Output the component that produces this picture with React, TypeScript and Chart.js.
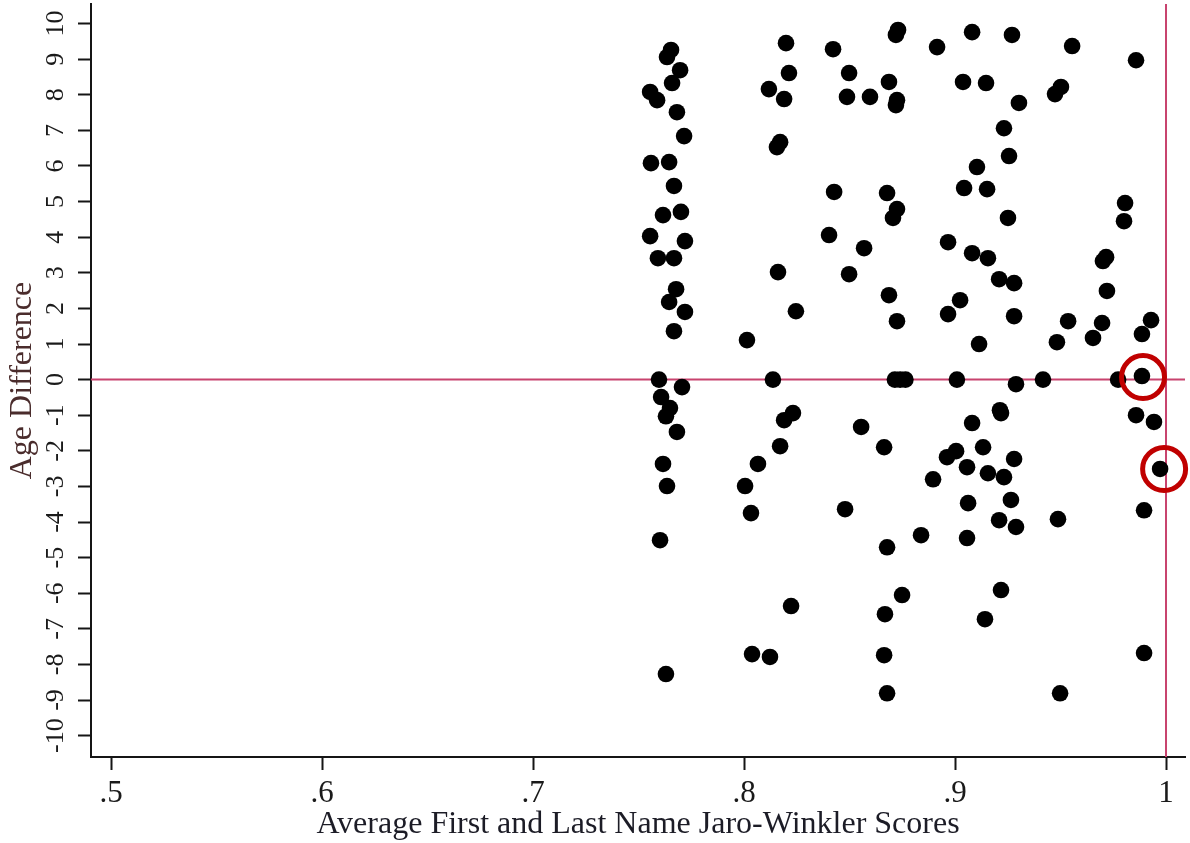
import React, { useEffect, useRef } from 'react';
import { Chart, registerables } from 'chart.js';

Chart.register(...registerables);

// ---- data ----
const xTickValues = [0.5, 0.6, 0.7, 0.8, 0.9, 1];
const xTickLabels = ['.5', '.6', '.7', '.8', '.9', '1'];
const yTickValues = [-10, -9, -8, -7, -6, -5, -4, -3, -2, -1, 0, 1, 2, 3, 4, 5, 6, 7, 8, 9, 10];
const yTickLabels = ['-10', '-9', '-8', '-7', '-6', '-5', '-4', '-3', '-2', '-1', '0', '1', '2', '3', '4', '5', '6', '7', '8', '9', '10'];

const xTitle = 'Average First and Last Name Jaro-Winkler Scores';
const yTitle = 'Age Difference';

const scoreX = [
  0.7654, 0.7635, 0.7697, 0.7659, 0.7555, 0.7588, 0.7682, 0.7716, 0.7559, 0.7645,
  0.7668, 0.7616, 0.7701, 0.7555, 0.7720, 0.7592, 0.7668, 0.7678, 0.7645, 0.7720,
  0.7668, 0.7597, 0.7706, 0.7607, 0.7649, 0.7630, 0.7682, 0.7616, 0.7635, 0.7602,
  0.7630,
  0.8199, 0.8213, 0.8118, 0.8190, 0.8171, 0.8156, 0.8161, 0.8246, 0.8014, 0.8137,
  0.8232, 0.8190, 0.8171, 0.8066, 0.8005, 0.8033, 0.8223, 0.8038, 0.8123,
  0.8422, 0.8498, 0.8488, 0.8597, 0.8687, 0.8720, 0.8725, 0.8730, 0.8720, 0.8427,
  0.8678, 0.8725, 0.8706, 0.8403, 0.8569, 0.8498, 0.8687, 0.8725, 0.8715, 0.8740,
  0.8765, 0.8555, 0.8664, 0.8479, 0.8678, 0.8749, 0.8668, 0.8664, 0.8678, 0.8839,
  0.9081, 0.8915, 0.9270, 0.9555, 0.9858, 0.9038, 0.9147, 0.9502, 0.9474, 0.9303,
  0.9232, 0.9256, 0.9104, 0.9043, 0.9152, 0.9806, 0.9801, 0.9251, 0.8967, 0.9081,
  0.9156, 0.9716, 0.9701, 0.9209, 0.9280, 0.9720, 0.9024, 0.8967, 0.9280, 0.9536,
  0.9697, 0.9929, 0.9886, 0.9654, 0.9483, 0.9114, 0.9886, 0.9009, 0.9289, 0.9417,
  0.9773, 0.9213, 0.9218, 0.9081, 0.9858, 0.9943, 0.9005, 0.8962, 0.9133, 0.9280,
  0.9057, 0.9156, 0.9232, 0.8896, 0.9972, 0.9062, 0.9265, 0.9209, 0.9289, 0.9488,
  0.9057, 0.9896, 0.9218, 0.9142, 0.9896, 0.9498,
];

const ageDiffY = [
  9.26, 9.06, 8.69, 8.33, 8.08, 7.85, 7.51, 6.84, 6.08, 6.11,
  5.44, 4.62, 4.71, 4.03, 3.89, 3.41, 3.41, 2.54, 2.18, 1.90,
  1.36, 0.00, -0.21, -0.49, -0.80, -1.03, -1.47, -2.37, -2.99, -4.51,
  -8.27,
  9.45, 8.61, 8.16, 7.88, 6.67, 6.53, 3.02, 1.92, 1.11, 0.00,
  -0.94, -1.14, -1.87, -2.37, -2.99, -3.75, -6.36, -7.71, -7.79,
  9.28, 8.61, 7.94, 7.94, 8.36, 7.71, 7.85, 9.82, 9.68, 5.27,
  5.24, 4.79, 4.54, 4.06, 3.69, 2.96, 2.37, 1.64, 0.00, 0.00,
  0.00, -1.33, -1.90, -3.64, -4.71, -6.05, -6.59, -7.74, -8.81, -4.37,
  9.76, 9.34, 9.68, 9.37, 8.97, 8.36, 8.33, 8.22, 8.02, 7.77,
  7.06, 6.28, 5.97, 5.38, 5.35, 4.96, 4.45, 4.54, 3.86, 3.55,
  3.41, 3.44, 3.33, 2.82, 2.71, 2.49, 2.23, 1.84, 1.78, 1.64,
  1.59, 1.67, 1.28, 1.17, 1.05, 1.00, 0.10, 0.00, -0.13, 0.00,
  0.00, -0.86, -0.94, -1.22, -1.00, -1.19, -2.01, -2.18, -1.90, -2.23,
  -2.46, -2.63, -2.74, -2.80, -2.51, -3.47, -3.38, -3.95, -4.14, -3.92,
  -4.45, -3.67, -5.91, -6.73, -7.68, -8.81,
];

const highlightX = [0.9891, 0.9991];
const highlightY = [0.07, -2.51];

const refLineX = 1;
const refLineY = 0;

const xMin = 0.4905;
const xMax = 1.009;
const yMin = -10.6;
const yMax = 10.55;

// ---- styles ----
const SERIF = '"Liberation Serif", "Times New Roman", Times, serif';
const RED_LINE = '#c8436e';
const AXIS = '#151515';

const rotatedYLabels = {
  id: 'rotatedYLabels',
  afterDraw(chart: any) {
    const ys = chart.scales.y;
    const ctx = chart.ctx;
    ctx.save();
    ctx.font = `26px ${SERIF}`;
    ctx.fillStyle = '#1a1a1a';
    ctx.textAlign = 'center';
    ctx.textBaseline = 'middle';
    yTickValues.forEach((v, i) => {
      const py = ys.getPixelForValue(v);
      ctx.save();
      ctx.translate(ys.right - 13 - 22, py);
      ctx.rotate(-Math.PI / 2);
      ctx.fillText(yTickLabels[i], 0, 0);
      ctx.restore();
    });
    ctx.restore();
  },
};

const zeroPad = (scale: any) => {
  scale.paddingLeft = 0;
  scale.paddingRight = 0;
  scale.paddingTop = 0;
  scale.paddingBottom = 0;
};

export default function App() {
  const canvasRef = useRef<HTMLCanvasElement | null>(null);

  useEffect(() => {
    if (!canvasRef.current) return;
    const points = scoreX.map((x, i) => ({ x, y: ageDiffY[i] }));
    const highlights = highlightX.map((x, i) => ({ x, y: highlightY[i] }));

    const chart = new Chart(canvasRef.current, {
      type: 'scatter',
      data: {
        datasets: [
          {
            type: 'line',
            data: [
              { x: refLineX, y: yMin },
              { x: refLineX, y: yMax },
            ],
            borderColor: RED_LINE,
            borderWidth: 2,
            pointRadius: 0,
            order: 10,
          } as any,
          {
            type: 'line',
            data: [
              { x: xMin, y: refLineY },
              { x: xMax, y: refLineY },
            ],
            borderColor: RED_LINE,
            borderWidth: 2,
            pointRadius: 0,
            order: 9,
          } as any,
          {
            type: 'scatter',
            data: points,
            pointRadius: 8.3,
            pointBackgroundColor: '#000000',
            pointBorderWidth: 0,
            order: 5,
          } as any,
          {
            type: 'scatter',
            data: highlights,
            pointRadius: 21.5,
            pointBorderWidth: 5,
            pointBorderColor: '#c00000',
            pointBackgroundColor: 'rgba(0,0,0,0)',
            order: 0,
            clip: false,
          } as any,
        ],
      },
      options: {
        responsive: false,
        animation: false,
        devicePixelRatio: 1,
        events: [],
        layout: { autoPadding: false, padding: { top: 4, right: 5, bottom: 0, left: 0 } },
        plugins: {
          legend: { display: false },
          tooltip: { enabled: false },
        },
        scales: {
          x: {
            type: 'linear',
            min: xMin,
            max: xMax,
            afterBuildTicks: (scale: any) => {
              scale.ticks = xTickValues.map((value) => ({ value }));
            },
            afterFit: (scale: any) => {
              scale.height = 86;
              zeroPad(scale);
            },
            ticks: {
              autoSkip: false,
              maxRotation: 0,
              minRotation: 0,
              padding: 5,
              color: '#1a1a1a',
              font: { family: SERIF, size: 31 },
              callback: (value: any) => {
                const idx = xTickValues.findIndex((t) => Math.abs(t - value) < 1e-9);
                return idx >= 0 ? xTickLabels[idx] : '';
              },
            },
            grid: {
              drawOnChartArea: false,
              drawTicks: true,
              tickLength: 13,
              tickWidth: 2,
              tickColor: AXIS,
            },
            border: { display: true, color: AXIS, width: 2 },
            title: {
              display: true,
              text: xTitle,
              color: '#1c1c26',
              font: { family: SERIF, size: 32, lineHeight: 1 },
              padding: { top: 0, bottom: 2 },
            },
          },
          y: {
            type: 'linear',
            min: yMin,
            max: yMax,
            afterBuildTicks: (scale: any) => {
              scale.ticks = yTickValues.map((value) => ({ value }));
            },
            afterFit: (scale: any) => {
              scale.width = 91;
              zeroPad(scale);
            },
            ticks: {
              display: false,
            },
            grid: {
              drawOnChartArea: false,
              drawTicks: true,
              tickLength: 13,
              tickWidth: 2,
              tickColor: AXIS,
            },
            border: { display: true, color: AXIS, width: 2 },
            title: {
              display: true,
              text: yTitle,
              color: '#4a2c2c',
              font: { family: SERIF, size: 32, lineHeight: 1 },
              padding: { top: 7, bottom: 0 },
            },
          },
        },
      },
      plugins: [rotatedYLabels],
    });

    return () => chart.destroy();
  }, []);

  return (
    <div style={{ position: 'absolute', left: 0, top: 0, width: 1190, height: 843, background: '#ffffff' }}>
      <canvas
        ref={canvasRef}
        width={1190}
        height={843}
        style={{ display: 'block', width: 1190, height: 843 }}
      />
    </div>
  );
}
